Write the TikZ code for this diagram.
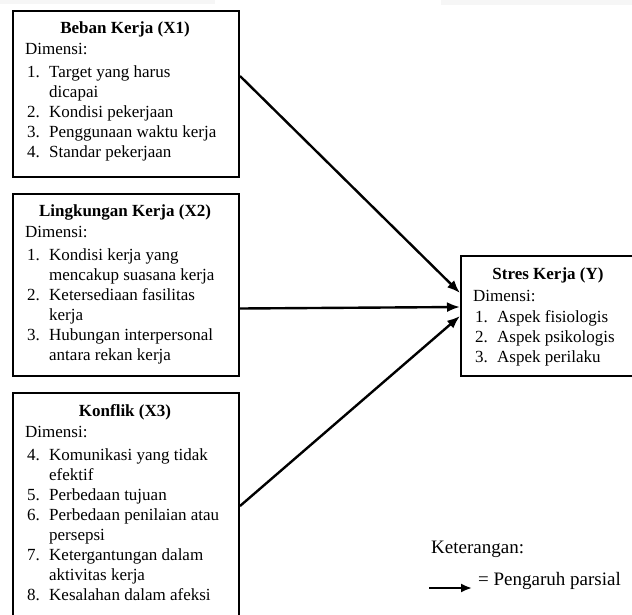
\documentclass[tikz,border=0pt]{standalone}
\usepackage{fontspec}
\setmainfont{Liberation Serif}
\usetikzlibrary{arrows.meta}
\definecolor{faint}{HTML}{F6F6F6}
\tikzset{
  box/.style={draw=black, line width=2pt, fill=white, inner sep=0pt, anchor=north west},
  ttl/.style={font=\fontsize{17}{20}\selectfont\bfseries, inner sep=0pt, anchor=base},
  lst/.style={font=\fontsize{17}{20}\selectfont, inner sep=0pt, anchor=base west},
  conn/.style={line width=2.4pt, -{Latex[length=13pt,width=10pt]}},
  legarrow/.style={line width=2pt, -{Latex[length=11pt,width=9pt]}},
  legtxt/.style={font=\fontsize{19}{22}\selectfont, inner sep=0pt, anchor=base west}
}
\newcommand{\itm}[1]{\hspace{2pt}#1}
\begin{document}
\begin{tikzpicture}[x=1pt,y=-1pt]
\useasboundingbox (0,0) rectangle (632,614);
\fill[faint] (0,0) rectangle (215,4);
\fill[faint] (441,0) rectangle (632,5);

% Box 1
\node[box, minimum width=226pt, minimum height=166pt] (b1) at (12,10) {};
\node[ttl] (t1) at (125,33) {Beban Kerja (X1)};
\node[lst] (l1) at (25,54) {\begin{tabular}[t]{@{}p{24pt}@{}l@{}}
\multicolumn{2}{@{}l@{}}{Dimensi:}\\[3pt]
\itm{1.} & Target yang harus\\
 & dicapai\\
\itm{2.} & Kondisi pekerjaan\\
\itm{3.} & Penggunaan waktu kerja\\
\itm{4.} & Standar pekerjaan
\end{tabular}};

% Box 2
\node[box, minimum width=226pt, minimum height=182pt] (b2) at (12,193) {};
\node[ttl] (t2) at (125,216) {Lingkungan Kerja (X2)};
\node[lst] (l2) at (25,237) {\begin{tabular}[t]{@{}p{24pt}@{}l@{}}
\multicolumn{2}{@{}l@{}}{Dimensi:}\\[3pt]
\itm{1.} & Kondisi kerja yang\\
 & mencakup suasana kerja\\
\itm{2.} & Ketersediaan fasilitas\\
 & kerja\\
\itm{3.} & Hubungan interpersonal\\
 & antara rekan kerja
\end{tabular}};

% Box 3
\node[box, minimum width=226pt, minimum height=250pt] (b3) at (12,392) {};
\node[ttl] (t3) at (125,416) {Konflik (X3)};
\node[lst] (l3) at (25,437) {\begin{tabular}[t]{@{}p{24pt}@{}l@{}}
\multicolumn{2}{@{}l@{}}{Dimensi:}\\[3pt]
\itm{4.} & Komunikasi yang tidak\\
 & efektif\\
\itm{5.} & Perbedaan tujuan\\
\itm{6.} & Perbedaan penilaian atau\\
 & persepsi\\
\itm{7.} & Ketergantungan dalam\\
 & aktivitas kerja\\
\itm{8.} & Kesalahan dalam afeksi
\end{tabular}};

% Box Y
\node[box, minimum width=186pt, minimum height=120pt] (bY) at (460,255) {};
\node[ttl] (tY) at (548,279) {Stres Kerja (Y)};
\node[lst] (lY) at (473,301) {\begin{tabular}[t]{@{}p{24pt}@{}l@{}}
\multicolumn{2}{@{}l@{}}{Dimensi:}\\[1pt]
\itm{1.} & Aspek fisiologis\\
\itm{2.} & Aspek psikologis\\
\itm{3.} & Aspek perilaku
\end{tabular}};

% Connectors
\draw[conn] ([yshift=18pt]b1.east) -- ([yshift=23pt]bY.west);
\draw[conn] ([yshift=-23.5pt]b2.east) -- ([yshift=9pt]bY.west);
\draw[conn] ([yshift=12pt]b3.east) -- ([yshift=0pt]bY.west);

% Legend
\node[legtxt] (k) at (431,553) {Keterangan:};
\node[legtxt] (p) at (478,585) {= Pengaruh parsial};
\coordinate (la) at (429,588);
\coordinate (lb) at (472,588);
\draw[legarrow] (la) -- (lb);
\end{tikzpicture}
\end{document}
